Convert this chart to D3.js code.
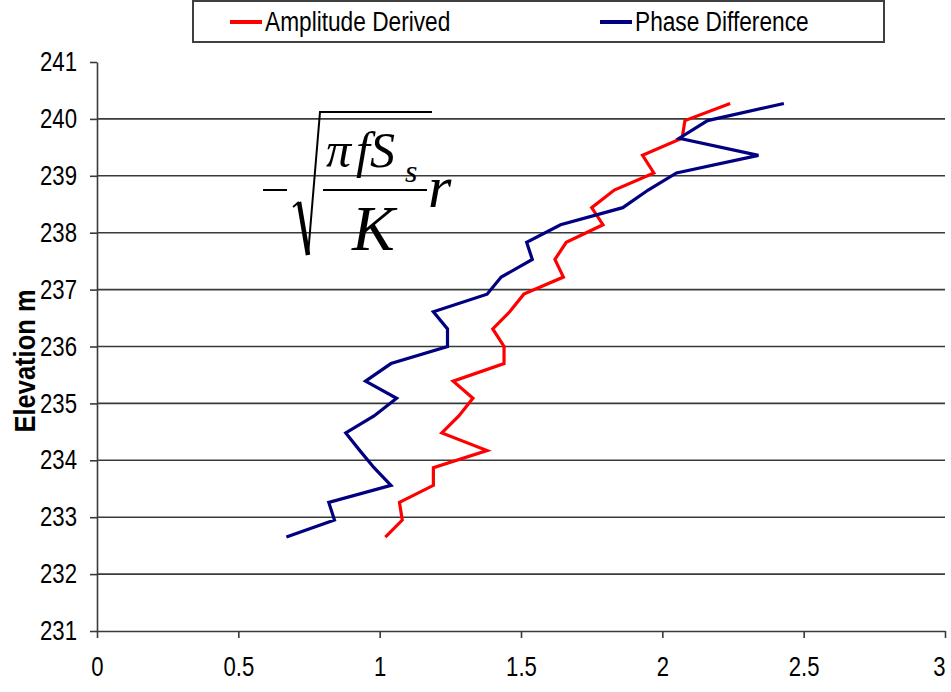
<!DOCTYPE html>
<html>
<head>
<meta charset="utf-8">
<script src="https://cdn.jsdelivr.net/npm/d3@7"></script>
<style>
  body { margin: 0; background: #fff; }
  svg { display: block; font-family: Arial, "Liberation Sans", sans-serif; }
</style>
</head>
<body>
<div id="chart"></div>
<script>
// elevation of each sample (m), one foot apart
var elevation = [232.65, 232.95, 233.26, 233.56, 233.87, 234.17, 234.48, 234.78, 235.09, 235.39,
                 235.70, 236.00, 236.31, 236.61, 236.92, 237.22, 237.53, 237.83, 238.14, 238.44,
                 238.75, 239.05, 239.36, 239.66, 239.97, 240.27];

var amplitudeDerived = [1.02, 1.08, 1.07, 1.19, 1.19, 1.38, 1.22, 1.28, 1.33, 1.26,
                        1.44, 1.44, 1.40, 1.46, 1.51, 1.65, 1.62, 1.66, 1.79, 1.75,
                        1.83, 1.97, 1.93, 2.07, 2.08, 2.24];

var phaseDifference = [0.67, 0.84, 0.82, 1.04, 0.98, 0.93, 0.88, 0.98, 1.06, 0.95,
                       1.04, 1.24, 1.24, 1.19, 1.38, 1.43, 1.54, 1.52, 1.64, 1.86,
                       1.95, 2.05, 2.34, 2.06, 2.16, 2.43];

var xTicks = [0, 0.5, 1, 1.5, 2, 2.5, 3];
var yTicks = [231, 232, 233, 234, 235, 236, 237, 238, 239, 240, 241];
var seriesNames = ["Amplitude Derived", "Phase Difference"];
var seriesColors = ["#ff0000", "#000080"];

var W = 951, H = 692;
var margin = {top: 62, right: 6, bottom: 61, left: 97};

var svg = d3.select("#chart")
  .append("svg")
    .attr("width", W)
    .attr("height", H);

// the original text is narrow, so squeeze the glyphs sideways
function squeeze(sel, k) {
  sel.each(function () {
    var w = this.getComputedTextLength();
    d3.select(this)
      .attr("textLength", (w * k).toFixed(1))
      .attr("lengthAdjust", "spacingAndGlyphs");
  });
}

var x = d3.scaleLinear()
    .domain([0, 3])
    .range([margin.left, W - margin.right]);

var y = d3.scaleLinear()
    .domain([231, 241])
    .range([H - margin.bottom, margin.top]);

// horizontal grid lines
svg.append("g")
  .selectAll("line")
  .data(yTicks.filter(function (d) { return d > 231 && d < 241; }))
  .enter()
  .append("line")
    .attr("x1", x(0))
    .attr("x2", x(3))
    .attr("y1", function (d) { return y(d); })
    .attr("y2", function (d) { return y(d); })
    .attr("stroke", "#3a3a3a")
    .attr("stroke-width", 1.6);

// axes
var yAxis = svg.append("g")
    .attr("transform", "translate(" + x(0) + ",0)")
    .call(d3.axisLeft(y).tickValues(yTicks).tickSize(7).tickSizeOuter(0).tickPadding(13));

var xAxis = svg.append("g")
    .attr("transform", "translate(0," + y(231) + ")")
    .call(d3.axisBottom(x).tickValues(xTicks).tickSize(7).tickSizeOuter(0).tickPadding(19)
      .tickFormat(function (d) { return String(d); }));

[xAxis, yAxis].forEach(function (a) {
  a.selectAll("path, line").attr("stroke", "#3a3a3a").attr("stroke-width", 1.6);
  a.selectAll("text")
    .attr("fill", "#000")
    .style("font-size", "27px")
    .style("font-family", "Arial, 'Liberation Sans', sans-serif")
    .call(squeeze, 0.82);
});

// last x label sits against the right edge
xAxis.selectAll(".tick text")
  .filter(function (d) { return d === 3; })
  .attr("x", -6);

svg.append("text")
    .attr("transform", "translate(35,361) rotate(-90)")
    .style("text-anchor", "middle")
    .style("font-size", "30px")
    .style("font-weight", "bold")
    .text("Elevation m")
    .call(squeeze, 0.85);

// data lines
var series = [amplitudeDerived, phaseDifference];
var line = d3.line()
    .x(function (d) { return x(d[0]); })
    .y(function (d) { return y(d[1]); });

series.forEach(function (vals, i) {
  svg.append("path")
    .datum(vals.map(function (v, j) { return [v, elevation[j]]; }))
    .attr("fill", "none")
    .attr("stroke", seriesColors[i])
    .attr("stroke-width", 3.2)
    .attr("stroke-linejoin", "miter")
    .attr("d", line);
});

// legend
var legend = svg.append("g");
legend.append("rect")
    .attr("x", 193).attr("y", 1)
    .attr("width", 691).attr("height", 41)
    .attr("fill", "#fff")
    .attr("stroke", "#404040")
    .attr("stroke-width", 2);

var legendX = [230, 600];
seriesNames.forEach(function (name, i) {
  legend.append("line")
    .attr("x1", legendX[i]).attr("x2", legendX[i] + 32)
    .attr("y1", 22).attr("y2", 22)
    .attr("stroke", seriesColors[i])
    .attr("stroke-width", 4);
  legend.append("text")
    .attr("x", legendX[i] + 35)
    .attr("y", 31)
    .style("font-size", "27px")
    .text(name)
    .call(squeeze, 0.84);
});

// formula annotation
var eq = svg.append("g")
    .style("font-family", "'Liberation Serif', 'Times New Roman', serif")
    .style("font-style", "italic")
    .attr("fill", "#000");

eq.append("line").attr("x1", 263).attr("x2", 287).attr("y1", 190).attr("y2", 190)
  .attr("stroke", "#000").attr("stroke-width", 2);
eq.append("path").attr("d", "M293,207 L299,202").attr("stroke", "#000").attr("stroke-width", 2).attr("fill", "none");
eq.append("path").attr("d", "M299,202 L308,255").attr("stroke", "#000").attr("stroke-width", 4.5).attr("fill", "none");
eq.append("path").attr("d", "M308,255 L320,112 L432,112").attr("stroke", "#000").attr("stroke-width", 2).attr("fill", "none");
eq.append("line").attr("x1", 323).attr("x2", 427).attr("y1", 190).attr("y2", 190)
  .attr("stroke", "#000").attr("stroke-width", 2);

eq.append("text").attr("x", 326).attr("y", 167).style("font-size", "50px").text("\u03c0");
eq.append("text").attr("x", 356).attr("y", 167).style("font-size", "50px").text("fS");
eq.append("text").attr("x", 405).attr("y", 182).style("font-size", "32px").text("s");
eq.append("text").attr("x", 428).attr("y", 207).style("font-size", "60px").text("r");
eq.append("text").attr("x", 352).attr("y", 250).style("font-size", "64px").text("K");
</script>
</body>
</html>
